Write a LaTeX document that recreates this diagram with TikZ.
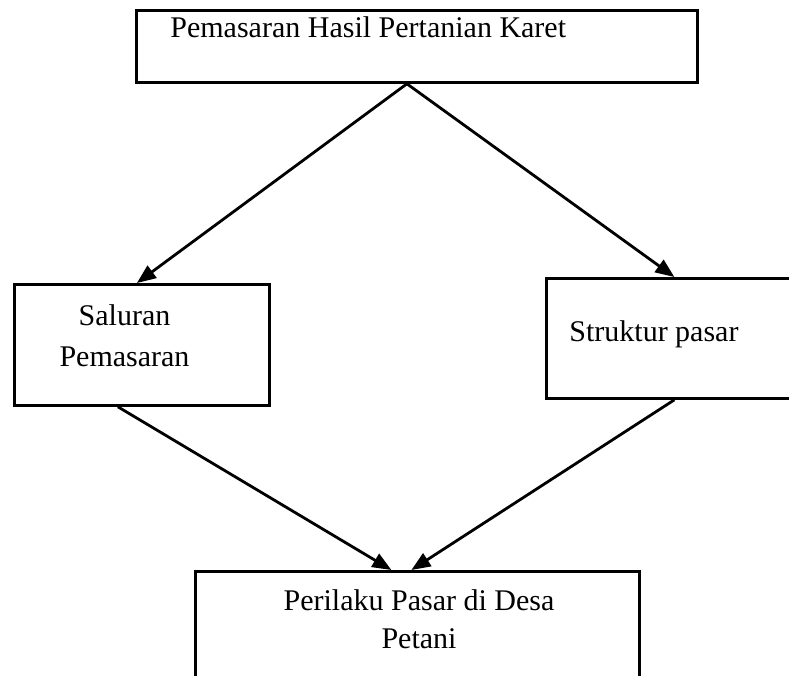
\documentclass[tikz,border=0pt]{standalone}
\usepackage{fontspec}
\setmainfont{Liberation Serif}
\usetikzlibrary{positioning, arrows.meta}

\begin{document}
\begin{tikzpicture}[x=1pt, y=-1pt, -{Triangle[length=19pt,width=15pt]}, line width=2.8pt]
\tikzstyle{box}=[draw=black, rectangle, inner sep=0pt, anchor=north west, -]
\tikzstyle{txt}=[font=\fontsize{30}{40}\selectfont, inner sep=0pt, align=center, -]

\clip (0,0) rectangle (789,675);

% kotak
\node[box, minimum width=561pt, minimum height=72pt] (hasil) at (135,9) {};
\node[box, minimum width=255pt, minimum height=121pt] (saluran) at (13,283) {};
\node[box, minimum width=250pt, minimum height=120pt] (struktur) at (545,277) {};
\node[box, minimum width=444pt, minimum height=140pt] (perilaku) at (194,570) {};

% teks
\node[txt, anchor=base west] (thasil) at (169,37) {Pemasaran Hasil Pertanian Karet};
\node[txt, anchor=base] (tsaluran) at (124.5,366) {Saluran\\[1pt]Pemasaran};
\node[txt, anchor=base west] (tstruktur) at (568,341) {Struktur pasar};
\node[txt, anchor=base] (tperilaku) at (419,648) {Perilaku Pasar di Desa\\[-2pt]Petani};

\path
([xshift=-10pt]hasil.south) edge ([xshift=-5pt]saluran.north)
([xshift=-10pt]hasil.south) edge ([xshift=3pt]struktur.north)
([xshift=-24pt]saluran.south) edge ([xshift=-26pt]perilaku.north)
([xshift=3pt]struktur.south) edge ([xshift=-6pt]perilaku.north);

\end{tikzpicture}
\end{document}
